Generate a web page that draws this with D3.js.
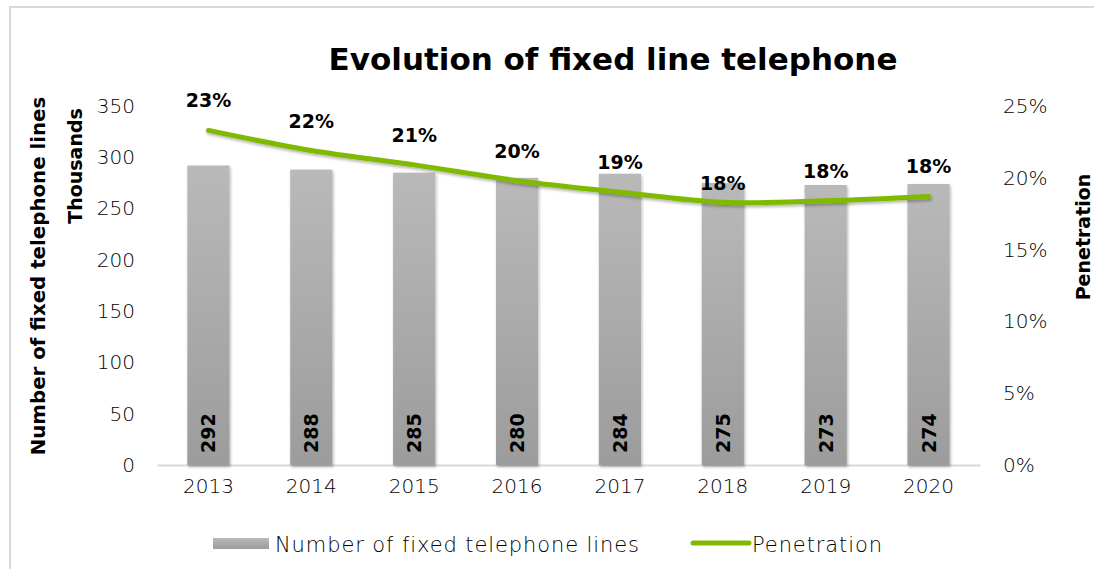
<!DOCTYPE html>
<html>
<head>
<meta charset="utf-8">
<script src="https://cdn.jsdelivr.net/npm/d3@7"></script>
<style>
  body { margin: 0; background: #fff; }
  text { font-family: "DejaVu Sans", sans-serif; }
</style>
</head>
<body>
<script>
// data
var years = ["2013", "2014", "2015", "2016", "2017", "2018", "2019", "2020"];
var lines = [292, 288, 285, 280, 284, 275, 273, 274];           // thousands
var penetration = [0.233, 0.219, 0.209, 0.198, 0.190, 0.183, 0.184, 0.187];
var penLabels = ["23%", "22%", "21%", "20%", "19%", "18%", "18%", "18%"];
var leftTicks = [0, 50, 100, 150, 200, 250, 300, 350];
var rightTicks = [0, 0.05, 0.10, 0.15, 0.20, 0.25];

var width = 1094, height = 569;
var margin = {top: 106, right: 114, bottom: 104, left: 157};

var svg = d3.select("body").append("svg")
    .attr("width", width)
    .attr("height", height);

var defs = svg.append("defs");

// bar gradient
var grad = defs.append("linearGradient")
    .attr("id", "barGrad")
    .attr("x1", 0).attr("y1", 0).attr("x2", 0).attr("y2", 1);
grad.append("stop").attr("offset", "0%").attr("stop-color", "#b9b9b9");
grad.append("stop").attr("offset", "100%").attr("stop-color", "#9c9c9c");

// soft shadow
var shadow = defs.append("filter").attr("id", "shadow")
    .attr("x", "-20%").attr("y", "-20%").attr("width", "140%").attr("height", "140%");
shadow.append("feDropShadow")
    .attr("dx", 1).attr("dy", 2).attr("stdDeviation", 1.5)
    .attr("flood-color", "#000").attr("flood-opacity", 0.3);

// frame
svg.append("rect")
    .attr("x", 10).attr("y", 7)
    .attr("width", width + 20).attr("height", height + 20)
    .attr("fill", "none")
    .attr("stroke", "#d9d9d9")
    .attr("stroke-width", 2);

var x = d3.scaleBand()
    .domain(years)
    .range([margin.left, width - margin.right])
    .paddingInner(0.59)
    .paddingOuter(0.295);

var y = d3.scaleLinear()
    .domain([0, 350])
    .range([height - margin.bottom, margin.top]);

var y2 = d3.scaleLinear()
    .domain([0, 0.25])
    .range([height - margin.bottom, margin.top]);

function tickStyle(sel) {
  sel.attr("font-size", 20)
    .attr("fill", "#000")
    .style("font-family", "DejaVu Sans, sans-serif")
    .style("font-weight", 200);
}

// title
svg.append("text")
    .attr("x", 613).attr("y", 70)
    .attr("text-anchor", "middle")
    .attr("font-size", 31)
    .attr("font-weight", "bold")
    .attr("fill", "#000")
    .text("Evolution of fixed line telephone");

// left axis
var leftAxis = svg.append("g")
    .attr("transform", "translate(" + (margin.left - 22) + ",0)")
    .call(d3.axisLeft(y).tickValues(leftTicks).tickSize(0).tickPadding(0));
leftAxis.select(".domain").remove();
leftAxis.selectAll("text").call(tickStyle);

// right axis
var rightAxis = svg.append("g")
    .attr("transform", "translate(" + (width - margin.right + 23) + ",0)")
    .call(d3.axisRight(y2).tickValues(rightTicks).tickFormat(d3.format(".0%")).tickSize(0).tickPadding(0));
rightAxis.select(".domain").remove();
rightAxis.selectAll("text").call(tickStyle);

// bottom axis
var bottomAxis = svg.append("g")
    .attr("transform", "translate(0," + (height - margin.bottom) + ")")
    .call(d3.axisBottom(x).tickSize(0).tickPadding(14));
bottomAxis.select(".domain")
    .attr("stroke", "#d9d9d9")
    .attr("stroke-width", 2);
bottomAxis.selectAll("text").call(tickStyle);

// axis titles
svg.append("text")
    .attr("transform", "translate(45,276) rotate(-90)")
    .attr("text-anchor", "middle")
    .attr("font-size", 19.8)
    .attr("font-weight", "bold")
    .text("Number of fixed telephone lines");
svg.append("text")
    .attr("transform", "translate(82,166) rotate(-90)")
    .attr("text-anchor", "middle")
    .attr("font-size", 19)
    .attr("font-weight", "bold")
    .text("Thousands");
svg.append("text")
    .attr("transform", "translate(1090,237) rotate(-90)")
    .attr("text-anchor", "middle")
    .attr("font-size", 19)
    .attr("font-weight", "bold")
    .text("Penetration");

// bars
svg.append("g").selectAll("rect")
    .data(lines)
    .join("rect")
    .attr("x", function(d, i) { return x(years[i]); })
    .attr("y", function(d) { return y(d); })
    .attr("width", x.bandwidth())
    .attr("height", function(d) { return y(0) - y(d); })
    .attr("fill", "url(#barGrad)")
    .attr("filter", "url(#shadow)");

// bar value labels
svg.append("g").selectAll("text")
    .data(lines)
    .join("text")
    .attr("transform", function(d, i) {
      return "translate(" + (x(years[i]) + x.bandwidth() / 2 + 7) + "," + (y(0) - 12) + ") rotate(-90)";
    })
    .attr("font-size", 19)
    .attr("font-weight", "bold")
    .attr("fill", "#000")
    .text(function(d) { return d; });

// penetration line
var line = d3.line()
    .x(function(d, i) { return x(years[i]) + x.bandwidth() / 2; })
    .y(function(d) { return y2(d); })
    .curve(d3.curveCatmullRom.alpha(0.5));

svg.append("path")
    .datum(penetration)
    .attr("d", line)
    .attr("fill", "none")
    .attr("stroke", "#7fba00")
    .attr("stroke-width", 5)
    .attr("stroke-linecap", "round")
    .attr("filter", "url(#shadow)");

// penetration labels
svg.append("g").selectAll("text")
    .data(penetration)
    .join("text")
    .attr("x", function(d, i) { return x(years[i]) + x.bandwidth() / 2; })
    .attr("y", function(d, i) { return y2(d) - (i === 5 ? 12 : 23); })
    .attr("text-anchor", "middle")
    .attr("font-size", 19)
    .attr("font-weight", "bold")
    .attr("fill", "#000")
    .text(function(d, i) { return penLabels[i]; });

// legend
var legend = svg.append("g");
legend.append("rect")
    .attr("x", 213).attr("y", 538)
    .attr("width", 56).attr("height", 11)
    .attr("fill", "url(#barGrad)");
legend.append("text")
    .attr("x", 275).attr("y", 552)
    .attr("font-size", 21)
    .attr("letter-spacing", 0.9)
    .attr("fill", "#000")
    .style("font-weight", 200)
    .text("Number of fixed telephone lines");
legend.append("line")
    .attr("x1", 693).attr("x2", 749)
    .attr("y1", 543).attr("y2", 543)
    .attr("stroke", "#7fba00")
    .attr("stroke-width", 5)
    .attr("stroke-linecap", "round");
legend.append("text")
    .attr("x", 752).attr("y", 552)
    .attr("font-size", 21)
    .attr("letter-spacing", 0.9)
    .attr("fill", "#000")
    .style("font-weight", 200)
    .text("Penetration");
</script>
</body>
</html>
